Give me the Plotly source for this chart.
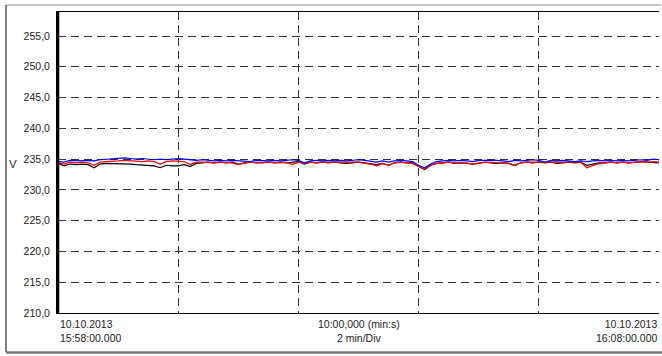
import plotly.graph_objects as go

# ---- data (minutes since 15:58:00, volts) ----
t_min = [round(i * 0.1, 1) for i in range(101)]

black_v = [
    234.3, 233.9, 234.2, 234.1, 234.2, 234.1, 233.6, 234.2, 234.3, 234.3, 234.3,
    234.3, 234.2, 234.1, 234.0, 234.0, 233.9, 233.6, 234.0, 233.9, 233.9,
    234.1, 233.8, 234.3, 234.4, 234.5, 234.4, 234.5, 234.4, 234.5, 234.2,
    234.4, 234.5, 234.4, 234.5, 234.5, 234.4, 234.5, 234.4, 234.5, 234.6,
    234.2, 234.5, 234.4, 234.5, 234.4, 234.5, 234.4, 234.3, 234.4, 234.5,
    234.4, 234.3, 234.1, 234.3, 234.0, 234.4, 234.5, 234.4, 234.4, 233.8,
    233.3, 234.0, 234.3, 234.4, 234.5, 234.3, 234.4, 234.3, 234.2, 234.3,
    234.5, 234.4, 234.3, 234.4, 234.3, 234.0, 234.4, 234.5, 234.4, 234.5,
    234.4, 234.5, 234.3, 234.4, 234.5, 234.4, 234.5, 234.0, 234.2, 234.4,
    234.4, 234.5, 234.4, 234.5, 234.4, 234.5, 234.6, 234.5, 234.5, 234.4,
]

red_v = [
    234.4, 234.2, 234.5, 234.4, 234.5, 234.4, 234.0, 234.5, 234.6, 234.6, 234.7,
    234.8, 234.7, 234.7, 234.6, 234.7, 234.6, 234.2, 234.6, 234.7, 234.6,
    234.6, 234.1, 234.5, 234.5, 234.4, 234.4, 234.5, 234.4, 234.4, 234.1,
    234.4, 234.5, 234.4, 234.4, 234.5, 234.4, 234.4, 234.5, 234.1, 234.5,
    234.3, 234.5, 234.4, 234.5, 234.5, 234.4, 234.5, 234.4, 234.5, 234.5,
    234.3, 234.2, 233.9, 234.3, 234.0, 234.4, 234.5, 234.4, 234.3, 233.8,
    233.4, 234.0, 234.3, 234.4, 234.5, 234.4, 234.3, 234.4, 234.2, 234.4,
    234.5, 234.5, 234.4, 234.4, 234.3, 233.9, 234.4, 234.5, 234.5, 234.5,
    234.4, 234.5, 234.4, 234.5, 234.4, 234.4, 234.5, 233.6, 234.0, 234.3,
    234.4, 234.5, 234.4, 234.5, 234.4, 234.5, 234.6, 234.5, 234.6, 234.5,
]

blue_v = [
    234.6, 234.5, 234.8, 234.7, 234.7, 234.8, 234.7, 234.9, 235.0, 235.0, 235.1,
    235.2, 235.1, 235.0, 235.1, 235.0, 234.9, 235.0, 234.9, 235.0, 235.1,
    235.0, 234.9, 234.8, 234.9, 234.8, 234.7, 234.8, 234.7, 234.8, 234.7,
    234.7, 234.6, 234.8, 234.7, 234.7, 234.8, 234.7, 234.8, 234.9, 234.8,
    234.4, 234.7, 234.8, 234.7, 234.8, 234.7, 234.8, 234.7, 234.8, 234.9,
    234.8, 234.6, 234.5, 234.7, 234.5, 234.7, 234.8, 234.7, 234.6, 234.0,
    233.6, 234.2, 234.6, 234.7, 234.8, 234.7, 234.8, 234.7, 234.6, 234.8,
    234.8, 234.9, 234.8, 234.7, 234.6, 234.8, 234.7, 234.8, 234.9, 234.8,
    234.5, 234.8, 234.7, 234.8, 234.7, 234.6, 234.7, 234.6, 234.7, 234.8,
    234.7, 234.8, 234.7, 234.8, 234.7, 234.8, 234.9, 234.8, 235.0, 234.9,
]

y_ticks = [210, 215, 220, 225, 230, 235, 240, 245, 250, 255]
y_tick_text = ["210,0", "215,0", "220,0", "225,0", "230,0", "235,0",
               "240,0", "245,0", "250,0", "255,0"]
x_grid = [2, 4, 6, 8]
left_label = "10.10.2013<br>15:58:00.000"
mid_label = "10:00,000 (min:s)<br>2 min/Div"
right_label = "10.10.2013<br>16:08:00.000"
y_unit = "V"

# ---- layout geometry (pixels) ----
W, H = 662, 356
L, R, T, B = 58, 3, 12, 43
pw, ph = W - L - R, H - T - B

def px(x):
    return (x - L) / pw

def py(y):
    return (H - B - y) / ph

FONT = "Liberation Sans, Arial, sans-serif"

fig = go.Figure()
for vals, col in [(black_v, "#000000"), (red_v, "#ff0000"), (blue_v, "#0000ff")]:
    fig.add_trace(go.Scatter(x=t_min, y=vals, mode="lines",
                             line=dict(color=col, width=1.2), hoverinfo="skip",
                             showlegend=False))

fig.update_layout(
    width=W, height=H,
    margin=dict(l=L, r=R, t=T, b=B),
    paper_bgcolor="white", plot_bgcolor="white",
    font=dict(family=FONT, size=10.5, color="#222222"),
    showlegend=False,
    xaxis=dict(range=[0, 10], tickvals=x_grid, showticklabels=False,
               ticks="", showgrid=True, gridcolor="#333333", gridwidth=1,
               griddash="8px,5px", zeroline=False,
               showline=True, linecolor="#000000", linewidth=1, mirror=True),
    yaxis=dict(range=[210, 258.9], tickvals=y_ticks, ticktext=y_tick_text,
               ticks="", showgrid=True, gridcolor="#333333", gridwidth=1,
               griddash="8px,5px", zeroline=False,
               showline=True, linecolor="#000000", linewidth=2,
               tickfont=dict(size=10.5, color="#222222"), ticklabelstandoff=4),
)

# left axis thicker
fig.add_shape(type="line", xref="paper", yref="paper", x0=0, x1=0, y0=0, y1=1,
              line=dict(color="#000000", width=2.5))

# outer frame
fig.add_shape(type="line", xref="paper", yref="paper",
              x0=px(6), x1=px(661), y0=py(5), y1=py(5),
              line=dict(color="#888888", width=1))
fig.add_shape(type="line", xref="paper", yref="paper",
              x0=px(6), x1=px(6), y0=py(5), y1=py(352),
              line=dict(color="#000000", width=1))
fig.add_shape(type="line", xref="paper", yref="paper",
              x0=px(6), x1=px(662), y0=py(352.5), y1=py(352.5),
              line=dict(color="#777777", width=2.5))

ann_font = dict(family=FONT, size=10.5, color="#222222")
fig.add_annotation(x=0, xref="x", y=0, yref="paper", yanchor="top", yshift=-3,
                   xanchor="left", align="left", text=left_label,
                   showarrow=False, font=ann_font)
fig.add_annotation(x=5, xref="x", y=0, yref="paper", yanchor="top", yshift=-3,
                   xanchor="center", align="center", text=mid_label,
                   showarrow=False, font=ann_font)
fig.add_annotation(x=10, xref="x", y=0, yref="paper", yanchor="top", yshift=-3,
                   xanchor="right", align="right", text=right_label,
                   showarrow=False, font=ann_font)
fig.add_annotation(x=px(13), xref="paper", y=234.2, yref="y", xanchor="center",
                   yanchor="middle", text=y_unit, showarrow=False,
                   font=dict(family=FONT, size=11.5, color="#222222"))

fig.write_html("out.html")
